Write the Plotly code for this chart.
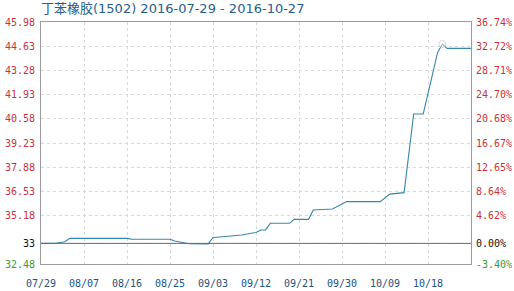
import plotly.graph_objects as go

# ---- data ----
dates = ["2016-07-29", "2016-08-01", "2016-08-02", "2016-08-03", "2016-08-04",
         "2016-08-16", "2016-08-17", "2016-08-25", "2016-08-26", "2016-08-29",
         "2016-09-02", "2016-09-03", "2016-09-05", "2016-09-08", "2016-09-09",
         "2016-09-11", "2016-09-12", "2016-09-13", "2016-09-14", "2016-09-15",
         "2016-09-19", "2016-09-20", "2016-09-23", "2016-09-24", "2016-09-28",
         "2016-10-01", "2016-10-08", "2016-10-10", "2016-10-12", "2016-10-13",
         "2016-10-15", "2016-10-17", "2016-10-20", "2016-10-21", "2016-10-22",
         "2016-10-27"]
prices = [33.63, 33.63, 33.68, 33.72, 33.91,
          33.91, 33.86, 33.86, 33.76, 33.61,
          33.60, 33.96, 34.00, 34.07, 34.10,
          34.20, 34.24, 34.38, 34.38, 34.75,
          34.75, 34.97, 34.97, 35.49, 35.55,
          35.96, 35.96, 36.38, 36.42, 36.46,
          40.85, 40.85, 44.27, 44.75, 44.51,
          44.51]

base_price = 33.63
y_ticks = [32.48, 33.63, 35.18, 36.53, 37.88, 39.23, 40.58, 41.93, 43.28, 44.63, 45.98]
y_labels = ["32.48", "33", "35.18", "36.53", "37.88", "39.23", "40.58", "41.93", "43.28", "44.63", "45.98"]
pct_labels = ["-3.40%", "0.00%", "4.62%", "8.64%", "12.65%", "16.67%", "20.68%", "24.70%", "28.71%", "32.72%", "36.74%"]
x_ticks = ["2016-07-29", "2016-08-07", "2016-08-16", "2016-08-25", "2016-09-03",
           "2016-09-12", "2016-09-21", "2016-09-30", "2016-10-09", "2016-10-18"]
x_labels = ["07/29", "08/07", "08/16", "08/25", "09/03", "09/12", "09/21", "09/30", "10/09", "10/18"]
title_text = "丁苯橡胶(1502) 2016-07-29 - 2016-10-27"

RED = "#c8323c"
GREEN = "#3a9a3a"
BLACK = "#111111"


def colored(labels, vals):
    out = []
    for lab, v in zip(labels, vals):
        if abs(v - base_price) < 1e-6:
            c = BLACK
        elif v < base_price:
            c = GREEN
        else:
            c = RED
        out.append(f'<span style="color:{c}">{lab}</span>')
    return out


vmax = max(prices)
sizes = [7 if p == vmax else 0 for p in prices]

fig = go.Figure()
fig.add_trace(go.Scatter(
    x=dates, y=prices, mode="lines+markers",
    line=dict(color="#3487ad", width=1.1),
    marker=dict(size=sizes, color="rgba(255,255,255,0.6)",
                line=dict(color="#c8c8c8", width=1)),
    hoverinfo="skip", showlegend=False,
))
# invisible trace to activate the right axis
fig.add_trace(go.Scatter(x=[dates[0]], y=[prices[0]], yaxis="y2", mode="lines",
                         line=dict(width=0), hoverinfo="skip", showlegend=False))

yr = [y_ticks[0], y_ticks[-1]]
tickfont = dict(family="DejaVu Sans Mono", size=10, color=RED)

fig.update_layout(
    width=514, height=291,
    margin=dict(l=41, r=43, t=22, b=27),
    paper_bgcolor="white", plot_bgcolor="white",
    title=dict(text=title_text, x=41 / 514, xanchor="left", xref="container",
               y=1, yref="container", yanchor="top", pad=dict(t=4),
               font=dict(family="DejaVu Sans, Noto Sans CJK SC", size=13, color="#2a5d8c")),
    xaxis=dict(
        type="date", range=[dates[0], dates[-1]], automargin=False,
        tickvals=x_ticks, ticktext=x_labels,
        tickfont=dict(family="DejaVu Sans Mono", size=10, color="#23527c"),
        ticks="outside", ticklen=10, tickcolor="rgba(0,0,0,0)",
        showgrid=True, gridcolor="#d8d8d8", griddash="dot", gridwidth=1,
        showline=True, linecolor="#9a9a9a", linewidth=1, mirror=True,
        zeroline=False,
    ),
    yaxis=dict(
        range=yr, tickvals=y_ticks, ticktext=colored(y_labels, y_ticks), automargin=False,
        tickfont=tickfont, ticks="outside", ticklen=3, tickcolor="rgba(0,0,0,0)",
        showgrid=True, gridcolor="#d8d8d8", griddash="dot", gridwidth=1,
        showline=True, linecolor="#9a9a9a", linewidth=1, mirror=True,
        zeroline=False,
    ),
    yaxis2=dict(
        range=yr, overlaying="y", side="right", automargin=False,
        tickvals=y_ticks, ticktext=colored(pct_labels, y_ticks),
        tickfont=tickfont, ticks="outside", ticklen=2, tickcolor="rgba(0,0,0,0)",
        showgrid=False, zeroline=False, showline=False,
    ),
    shapes=[dict(type="line", xref="paper", x0=0, x1=1, yref="y",
                 y0=base_price, y1=base_price, line=dict(color="#6a6a6a", width=1))],
)

fig.write_html("out.html")
